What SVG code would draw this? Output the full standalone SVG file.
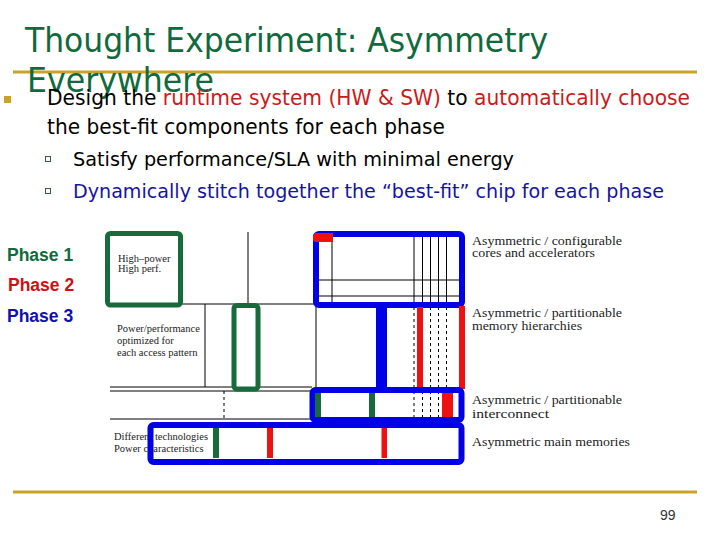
<svg xmlns="http://www.w3.org/2000/svg" width="720" height="540" viewBox="0 0 720 540">
<style>
.t{font-family:"DejaVu Sans",Verdana,sans-serif}
.ser{font-family:"Liberation Serif","Times New Roman",serif;fill:#222}
.ph{font-family:"Liberation Sans",Arial,sans-serif;font-weight:bold;font-size:17.5px}
.red{fill:#cc1a1a}
.thin{stroke:#000;stroke-width:1;fill:none}
.dash{stroke:#000;stroke-width:1;stroke-dasharray:3 3;fill:none}
.gbox{stroke:#176a3a;stroke-width:5;fill:#fff}
.bbox{stroke:#0000e6;stroke-width:6;fill:none}
.gbar{fill:#176a3a}
.rbar{fill:#ee1111}
.bbar{fill:#0000e6}
.gold{stroke:#c9a227;stroke-width:3}
</style>
<rect width="720" height="540" fill="#fff"/>
<g id="frame">
<line class="gold" x1="13" y1="72" x2="697" y2="72"/>
<line class="gold" x1="13" y1="492" x2="697" y2="492"/>
</g>
<g id="title">
<text class="t" x="25" y="52" font-size="34" fill="#0f6a3c" textLength="523" lengthAdjust="spacingAndGlyphs">Thought Experiment: Asymmetry</text>
<text class="t" x="27" y="92" font-size="34" fill="#0f6a3c" textLength="187" lengthAdjust="spacingAndGlyphs">Everywhere</text>
</g>
<g id="bullets">
<rect x="4" y="96" width="7" height="7" fill="#c9a227"/>
<text class="t" x="47" y="105" font-size="21.5" fill="#000" textLength="643" lengthAdjust="spacingAndGlyphs">Design the <tspan class="red">runtime system (HW &amp; SW)</tspan> to <tspan class="red">automatically choose</tspan></text>
<text class="t" x="47" y="134" font-size="21.5" fill="#000" textLength="398" lengthAdjust="spacingAndGlyphs">the best-fit components for each phase</text>
<rect x="45.5" y="156.5" width="5" height="5" fill="#fff" stroke="#3d5a3d" stroke-width="1"/>
<text class="t" x="73" y="166" font-size="19" fill="#000" textLength="441" lengthAdjust="spacingAndGlyphs">Satisfy performance/SLA with minimal energy</text>
<rect x="45.5" y="188.5" width="5" height="5" fill="#fff" stroke="#3d5a3d" stroke-width="1"/>
<text class="t" x="73" y="198" font-size="19" fill="#1414a0" textLength="591" lengthAdjust="spacingAndGlyphs">Dynamically stitch together the “best-fit” chip for each phase</text>
</g>
<g id="phases">
<text class="ph" x="7" y="261" fill="#106a3a">Phase 1</text>
<text class="ph" x="8" y="291" fill="#d01010">Phase 2</text>
<text class="ph" x="7" y="322" fill="#1010b0">Phase 3</text>
</g>
<g id="connectors">
<line class="thin" x1="248" y1="232" x2="248" y2="304"/>
<line class="thin" x1="180" y1="304" x2="316" y2="304"/>
<line class="thin" x1="205" y1="304" x2="205" y2="387"/>
<line class="thin" x1="316" y1="304" x2="316" y2="387"/>
<line class="thin" x1="110" y1="387" x2="312" y2="387"/>
<line class="thin" x1="110" y1="391" x2="312" y2="391"/>
<line class="thin" x1="110" y1="419" x2="312" y2="419"/>
<line class="dash" x1="224" y1="391" x2="224" y2="419"/>
<line class="thin" x1="332" y1="234" x2="332" y2="305"/>
<line class="thin" x1="316" y1="280" x2="462" y2="280"/>
<line class="thin" x1="316" y1="296" x2="462" y2="296"/>
<line class="thin" x1="414" y1="234" x2="414" y2="305"/>
<line class="thin" x1="422.5" y1="234" x2="422.5" y2="305"/>
<line class="thin" x1="430.5" y1="234" x2="430.5" y2="305"/>
<line class="thin" x1="438.5" y1="234" x2="438.5" y2="305"/>
<line class="thin" x1="446.5" y1="234" x2="446.5" y2="305"/>
<line class="dash" x1="414" y1="307" x2="414" y2="418"/>
<line class="dash" x1="422.5" y1="307" x2="422.5" y2="418"/>
<line class="dash" x1="430.5" y1="307" x2="430.5" y2="418"/>
<line class="dash" x1="438.5" y1="307" x2="438.5" y2="418"/>
<line class="dash" x1="446.5" y1="307" x2="446.5" y2="418"/>
</g>
<g id="labels-left">
<text class="ser" x="118" y="262" font-size="10.5">High–power</text>
<text class="ser" x="118" y="272" font-size="10.5">High perf.</text>
<text class="ser" x="117" y="332" font-size="10.5">Power/performance</text>
<text class="ser" x="117" y="344" font-size="10.5">optimized for</text>
<text class="ser" x="117" y="356" font-size="10.5">each access pattern</text>
<text class="ser" x="114" y="440" font-size="10.5">Different technologies</text>
<text class="ser" x="114" y="452" font-size="10.5">Power characteristics</text>
</g>
<g id="node-highpower">
<rect class="gbox" x="107.5" y="233.5" width="73" height="71.5" rx="3" style="fill:none"/>
</g>
<g id="node-memory-green">
<rect class="gbox" x="234" y="305.5" width="24" height="83.5" rx="3"/>
</g>
<g id="node-cores">
<rect class="bbox" x="316" y="234" width="146" height="71" rx="3"/>
<path d="M316,233 h17 v9 h-17 a3,3 0 0 1 -3,-3 v-3 a3,3 0 0 1 3,-3z" class="rbar"/>
</g>
<g id="node-memory">
<rect class="bbar" x="376" y="305" width="11" height="86"/>
<rect class="rbar" x="417" y="307" width="6" height="81"/>
<rect class="rbar" x="459" y="306" width="6" height="83"/>
</g>
<g id="node-interconnect">
<rect class="bbox" x="312.5" y="390" width="149" height="30" rx="3"/>
<rect class="gbar" x="315" y="393" width="6" height="24"/>
<rect class="gbar" x="369" y="393" width="6" height="24"/>
<rect class="rbar" x="442" y="393" width="11" height="24"/>
</g>
<g id="node-main-memories">
<rect class="bbox" x="150.5" y="425" width="311" height="37" rx="3"/>
<rect class="gbar" x="213" y="428" width="6" height="30"/>
<rect class="rbar" x="267" y="428" width="6" height="30"/>
<rect class="rbar" x="381.5" y="428" width="5.5" height="30"/>
</g>
<g id="labels-right">
<text class="ser" x="472" y="244.5" font-size="13" textLength="150" lengthAdjust="spacingAndGlyphs">Asymmetric / configurable</text>
<text class="ser" x="472" y="256.5" font-size="13" textLength="123" lengthAdjust="spacingAndGlyphs">cores and accelerators</text>
<text class="ser" x="472" y="317" font-size="13" textLength="150" lengthAdjust="spacingAndGlyphs">Asymmetric / partitionable</text>
<text class="ser" x="472" y="330" font-size="13" textLength="110" lengthAdjust="spacingAndGlyphs">memory hierarchies</text>
<text class="ser" x="472" y="404" font-size="13" textLength="150" lengthAdjust="spacingAndGlyphs">Asymmetric / partitionable</text>
<text class="ser" x="472" y="418" font-size="13" textLength="77" lengthAdjust="spacingAndGlyphs">interconnect</text>
<text class="ser" x="472" y="446" font-size="13" textLength="158" lengthAdjust="spacingAndGlyphs">Asymmetric main memories</text>
</g>
<g id="page">
<text x="660" y="520" font-family="Liberation Sans,Arial,sans-serif" font-size="14" fill="#333">99</text>
</g>
</svg>
